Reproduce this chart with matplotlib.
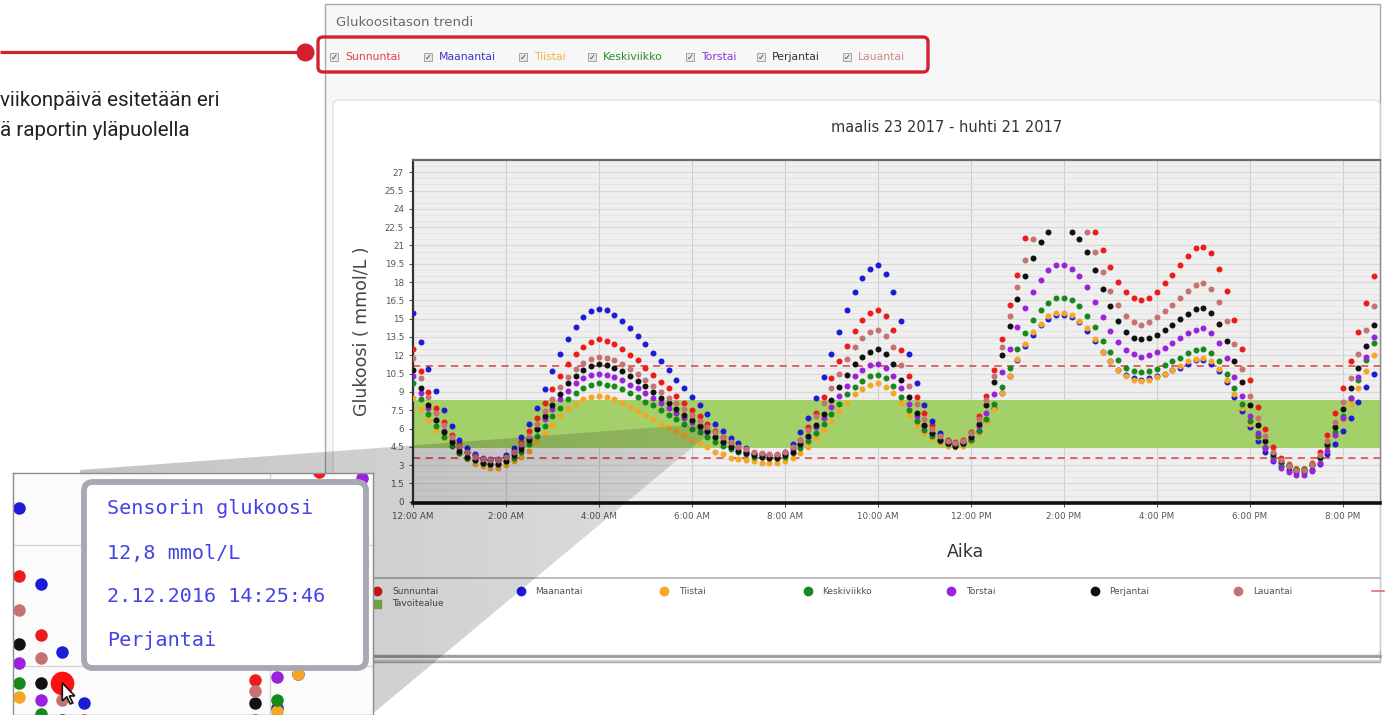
import numpy as np
import matplotlib.pyplot as plt
from matplotlib.patches import Rectangle, FancyBboxPatch, Polygon

W, H = 1390, 715

# sensor glucose, mmol/L, one reading every 10 min from 00:00 (None = above sensor range)
sunnuntai = [12.5, 10.7, 9.0, 7.7, 6.5, 5.5, 4.7, 4.1, 3.8, 3.5, 3.4, 3.4,
             3.7, 4.2, 4.9, 5.8, 6.9, 8.1, 9.2, 10.3, 11.3, 12.1, 12.7, 13.1,
             13.3, 13.2, 12.9, 12.5, 12.0, 11.6, 11.0, 10.4, 9.8, 9.3, 8.7, 8.1,
             7.5, 7.0, 6.4, 5.8, 5.3, 4.9, 4.5, 4.2, 3.9, 3.8, 3.7, 3.7,
             3.9, 4.4, 5.1, 6.1, 7.3, 8.6, 10.1, 11.5, 12.8, 14.0, 14.9, 15.5,
             15.7, 15.2, 14.1, 12.4, 10.3, 8.6, 7.3, 6.3, 5.5, 5.1, 4.9, 5.1,
             5.7, 7.0, 8.7, 10.8, 13.3, 16.1, 18.6, 21.6, None, None, None, None,
             None, None, None, None, 22.1, 20.6, 19.2, 18.0, 17.2, 16.7, 16.5, 16.7,
             17.2, 17.9, 18.6, 19.4, 20.1, 20.8, 20.9, 20.4, 19.1, 17.3, 14.9, 12.5,
             10.0, 7.8, 6.0, 4.5, 3.6, 3.1, 2.7, 2.7, 3.2, 4.1, 5.5, 7.3,
             9.3, 11.5, 13.9, 16.3, 18.5]
maanantai = [15.5, 13.1, 10.9, 9.1, 7.5, 6.2, 5.1, 4.4, 3.9, 3.5, 3.4, 3.4,
             3.8, 4.4, 5.3, 6.4, 7.7, 9.2, 10.7, 12.1, 13.3, 14.3, 15.1, 15.6,
             15.8, 15.7, 15.3, 14.8, 14.2, 13.6, 12.9, 12.2, 11.5, 10.8, 10.0, 9.3,
             8.6, 7.9, 7.2, 6.4, 5.8, 5.2, 4.8, 4.4, 4.0, 3.9, 3.8, 3.8,
             4.1, 4.7, 5.7, 6.9, 8.5, 10.2, 12.1, 13.9, 15.7, 17.2, 18.3, 19.1,
             19.4, 18.7, 17.2, 14.8, 12.1, 9.7, 7.9, 6.6, 5.6, 5.0, 4.7, 4.8,
             5.1, 5.8, 6.6, 7.7, 8.9, 10.3, 11.6, 12.8, 13.7, 14.5, 15.0, 15.3,
             15.3, 15.1, 14.7, 14.0, 13.2, 12.3, 11.5, 10.8, 10.4, 10.1, 10.0, 10.1,
             10.3, 10.5, 10.8, 11.0, 11.3, 11.6, 11.6, 11.3, 10.7, 9.8, 8.6, 7.4,
             6.1, 5.0, 4.1, 3.3, 2.9, 2.6, 2.4, 2.4, 2.6, 3.1, 3.9, 4.7,
             5.8, 6.9, 8.2, 9.4, 10.5]
tiistai = [8.5, 7.6, 6.7, 5.9, 5.2, 4.6, 4.0, 3.5, 3.1, 2.9, 2.8, 2.8,
           3.0, 3.3, 3.7, 4.2, 4.9, 5.6, 6.3, 7.0, 7.6, 8.0, 8.4, 8.6,
           8.7, 8.6, 8.4, 8.1, 7.8, 7.4, 7.1, 6.8, 6.4, 6.1, 5.8, 5.5,
           5.1, 4.8, 4.5, 4.1, 3.9, 3.6, 3.5, 3.4, 3.3, 3.2, 3.2, 3.2,
           3.3, 3.6, 4.0, 4.5, 5.2, 5.9, 6.6, 7.4, 8.1, 8.8, 9.2, 9.6,
           9.7, 9.4, 8.9, 8.1, 7.1, 6.3, 5.6, 5.2, 4.8, 4.6, 4.5, 4.6,
           4.9, 5.6, 6.5, 7.6, 8.9, 10.3, 11.7, 12.9, 13.9, 14.6, 15.2, 15.5,
           15.5, 15.3, 14.8, 14.2, 13.3, 12.3, 11.5, 10.8, 10.3, 10.0, 9.9, 10.0,
           10.2, 10.5, 10.8, 11.1, 11.5, 11.7, 11.8, 11.5, 10.9, 10.0, 8.8, 7.7,
           6.4, 5.3, 4.4, 3.7, 3.2, 3.0, 2.8, 2.8, 3.1, 3.6, 4.5, 5.5,
           6.7, 8.0, 9.3, 10.7, 12.0]
keskiviikko = [9.7, 8.4, 7.2, 6.2, 5.3, 4.6, 4.0, 3.6, 3.4, 3.2, 3.1, 3.1,
               3.3, 3.6, 4.1, 4.7, 5.4, 6.2, 7.0, 7.7, 8.4, 8.9, 9.3, 9.6,
               9.7, 9.6, 9.5, 9.2, 8.9, 8.6, 8.2, 7.9, 7.5, 7.1, 6.8, 6.4,
               6.0, 5.7, 5.3, 4.9, 4.6, 4.3, 4.1, 3.9, 3.7, 3.7, 3.6, 3.6,
               3.7, 4.0, 4.4, 5.0, 5.6, 6.4, 7.2, 8.0, 8.8, 9.4, 9.9, 10.3,
               10.4, 10.1, 9.5, 8.6, 7.5, 6.6, 5.9, 5.4, 5.0, 4.7, 4.6, 4.7,
               5.1, 5.8, 6.8, 8.0, 9.4, 11.0, 12.5, 13.8, 14.9, 15.7, 16.3, 16.7,
               16.7, 16.5, 16.0, 15.2, 14.3, 13.2, 12.3, 11.6, 11.0, 10.7, 10.6, 10.7,
               10.9, 11.2, 11.5, 11.8, 12.2, 12.4, 12.5, 12.2, 11.5, 10.5, 9.3, 8.0,
               6.6, 5.4, 4.5, 3.7, 3.2, 2.9, 2.7, 2.7, 3.0, 3.6, 4.6, 5.7,
               7.0, 8.5, 10.0, 11.6, 13.0]
torstai = [10.3, 8.9, 7.7, 6.7, 5.8, 5.1, 4.5, 4.1, 3.8, 3.6, 3.5, 3.5,
           3.7, 4.1, 4.6, 5.2, 6.0, 6.8, 7.6, 8.4, 9.1, 9.7, 10.1, 10.4,
           10.5, 10.4, 10.2, 10.0, 9.6, 9.3, 8.9, 8.5, 8.1, 7.7, 7.3, 6.9,
           6.5, 6.1, 5.7, 5.3, 4.9, 4.6, 4.3, 4.1, 3.9, 3.9, 3.8, 3.8,
           4.0, 4.3, 4.7, 5.3, 6.1, 6.9, 7.8, 8.7, 9.5, 10.3, 10.8, 11.2,
           11.3, 11.0, 10.3, 9.3, 8.0, 7.0, 6.2, 5.6, 5.1, 4.8, 4.7, 4.8,
           5.3, 6.2, 7.3, 8.8, 10.6, 12.5, 14.3, 15.9, 17.2, 18.2, 19.0, 19.4,
           19.4, 19.1, 18.5, 17.6, 16.4, 15.1, 14.0, 13.1, 12.4, 12.1, 11.9, 12.0,
           12.3, 12.6, 13.0, 13.4, 13.8, 14.1, 14.2, 13.8, 13.0, 11.8, 10.2, 8.7,
           7.0, 5.6, 4.4, 3.4, 2.8, 2.4, 2.2, 2.2, 2.5, 3.2, 4.2, 5.5,
           6.9, 8.5, 10.2, 11.9, 13.5]
perjantai = [10.8, 9.3, 7.9, 6.7, 5.7, 4.9, 4.2, 3.7, 3.4, 3.2, 3.1, 3.1,
             3.3, 3.8, 4.3, 5.1, 6.0, 7.0, 7.9, 8.8, 9.7, 10.3, 10.8, 11.1,
             11.3, 11.2, 11.0, 10.7, 10.3, 9.9, 9.5, 9.0, 8.5, 8.1, 7.6, 7.1,
             6.7, 6.2, 5.8, 5.3, 4.9, 4.5, 4.2, 4.0, 3.8, 3.7, 3.6, 3.6,
             3.8, 4.1, 4.7, 5.4, 6.3, 7.2, 8.3, 9.4, 10.4, 11.3, 11.9, 12.3,
             12.5, 12.1, 11.3, 10.0, 8.6, 7.3, 6.3, 5.6, 5.1, 4.8, 4.6, 4.8,
             5.3, 6.4, 7.9, 9.8, 12.0, 14.4, 16.6, 18.5, 20.0, 21.3, 22.1, None,
             None, 22.1, 21.5, 20.5, 19.0, 17.4, 16.0, 14.8, 13.9, 13.4, 13.3, 13.4,
             13.7, 14.1, 14.5, 15.0, 15.4, 15.8, 15.9, 15.5, 14.6, 13.2, 11.5, 9.8,
             7.9, 6.3, 5.0, 3.9, 3.3, 2.9, 2.6, 2.6, 3.0, 3.7, 4.7, 6.1,
             7.6, 9.3, 11.0, 12.8, 14.5]
lauantai = [11.8, 10.1, 8.6, 7.3, 6.3, 5.3, 4.6, 4.1, 3.7, 3.5, 3.4, 3.4,
            3.7, 4.1, 4.7, 5.4, 6.4, 7.4, 8.4, 9.4, 10.2, 10.9, 11.4, 11.7,
            11.9, 11.8, 11.6, 11.3, 10.9, 10.5, 10.0, 9.5, 9.0, 8.5, 8.1, 7.6,
            7.1, 6.6, 6.1, 5.7, 5.3, 4.9, 4.5, 4.3, 4.1, 4.0, 3.9, 3.9,
            4.1, 4.5, 5.1, 5.9, 7.0, 8.1, 9.3, 10.5, 11.7, 12.7, 13.4, 13.9,
            14.1, 13.6, 12.7, 11.2, 9.5, 8.0, 6.8, 6.0, 5.4, 5.0, 4.8, 5.0,
            5.6, 6.8, 8.3, 10.3, 12.7, 15.2, 17.6, 19.8, 21.5, None, None, None,
            None, None, None, 22.1, 20.5, 18.8, 17.3, 16.1, 15.2, 14.7, 14.5, 14.7,
            15.1, 15.6, 16.1, 16.7, 17.3, 17.8, 17.9, 17.4, 16.4, 14.8, 12.9, 10.9,
            8.7, 6.9, 5.4, 4.1, 3.4, 2.9, 2.6, 2.6, 3.0, 3.8, 5.0, 6.5,
            8.2, 10.1, 12.1, 14.1, 16.0]

days = ['Sunnuntai', 'Maanantai', 'Tiistai', 'Keskiviikko', 'Torstai', 'Perjantai', 'Lauantai']
series = [sunnuntai, maanantai, tiistai, keskiviikko, torstai, perjantai, lauantai]
colors = ['#ee1b1b', '#1b1bd8', '#f5a623', '#15891a', '#9a22dc', '#111111', '#c77272']
check_colors = ['#e0404a', '#3a36c8', '#f2b54a', '#2a8a2a', '#8a3ac8', '#333333', '#d08a8a']

hour_ticks = [0, 2, 4, 6, 8, 10, 12, 14, 16, 18, 20]
hour_labels = ['12:00 AM', '2:00 AM', '4:00 AM', '6:00 AM', '8:00 AM', '10:00 AM',
               '12:00 PM', '2:00 PM', '4:00 PM', '6:00 PM', '8:00 PM']
target_range = (4.4, 8.3)
limits = (3.6, 11.1)
step_min = 10

t = np.arange(len(sunnuntai)) * step_min / 60.0
vals = [np.array(s, dtype=float) for s in series]

RED = '#d42130'


def frac(x0, y0, x1, y1):
    return [x0 / W, 1 - y1 / H, (x1 - x0) / W, (y1 - y0) / H]


def canvas(z):
    a = fig.add_axes([0, 0, 1, 1], zorder=z)
    a.set_xlim(0, W)
    a.set_ylim(H, 0)
    a.axis('off')
    return a


fig = plt.figure(figsize=(W / 100, H / 100), dpi=100)
fig.patch.set_facecolor('white')

# ---- screenshot panel ----
bg = canvas(0)
bg.add_patch(Rectangle((325, 4), 1055, 658, fc='#f7f7f7', ec='#a9a9a9', lw=1))
bg.add_patch(FancyBboxPatch((333, 100), 1047, 555, boxstyle='round,pad=0,rounding_size=6',
                            fc='white', ec='#e2e2e2', lw=1))
bg.text(336, 22, 'Glukoositason trendi', fontsize=9.5, color='#6a6a6a', va='center')
label_x = [345, 439, 534, 603, 701, 772, 858]
for d, c, lx in zip(days, check_colors, label_x):
    bg.add_patch(Rectangle((lx - 15, 53), 8, 8, fc='#e6e6e6', ec='#9a9a9a', lw=0.6))
    bg.text(lx - 11, 57.5, '\u2713', fontsize=6, color='#444', ha='center', va='center')
    bg.text(lx, 57, d, fontsize=7.8, color=c, va='center')
bg.text(947, 127, 'maalis 23 2017 - huhti 21 2017', fontsize=10.5, color='#333',
        ha='center', va='center')

# legend band
band = np.concatenate([np.linspace(0.92, 0.97, 10), np.linspace(0.97, 0.76, 30)])
bg.imshow(np.repeat(band[:, None], 2, axis=1), cmap='gray', vmin=0, vmax=1,
          extent=(333, 1380, 618, 578), aspect='auto', interpolation='bilinear')
bg.plot([333, 1380], [578, 578], color='#b0b0b0', lw=1.2)
for i, (d, c) in enumerate(zip(days, colors)):
    mx = 377 + i * 143.5
    bg.plot(mx, 591, 'o', ms=6, color=c)
    bg.text(mx + 15, 591, d, fontsize=6.5, color='#505050', va='center')
bg.plot(377, 604, 's', ms=6, color='#8cc456')
bg.text(392, 604, 'Tavoitealue', fontsize=6.5, color='#505050', va='center')
bg.plot([1372, 1384], [591, 591], color='#e07070', lw=1.2)
bg.plot([333, 1380], [656, 656], color='#9a9a9a', lw=2)
bg.plot([333, 1380], [661, 661], color='#c6c6c6', lw=1.2)
bg.set_xlim(0, W)
bg.set_ylim(H, 0)

# ---- main chart ----
ax = fig.add_axes(frac(413, 160, 1380, 503), zorder=1)
ax.set_facecolor('#efefef')
ax.axhspan(*target_range, color='#a4d06a', zorder=1, lw=0)
for lim in limits:
    ax.axhline(lim, color='#e05858', lw=1.3, ls=(0, (4, 3)), zorder=2)
for v, c in zip(vals, colors):
    ax.plot(t, v, 'o', ms=4.3, color=c, mec='none', zorder=3)
ax.set_xlim(0, 20.8)
ax.set_ylim(-0.1, 28)
ax.set_xticks(hour_ticks)
ax.set_xticklabels(hour_labels)
yt = np.arange(0, 27.1, 1.5)
ax.set_yticks(yt)
ax.set_yticklabels([f'{v:g}' for v in yt])
ax.set_yticks(np.arange(0, 28, 0.5), minor=True)
ax.tick_params(axis='both', which='major', labelsize=6.3, colors='#555', length=3, width=0.8)
ax.tick_params(axis='y', which='minor', length=0)
ax.grid(axis='y', which='minor', color='#e3e3e3', lw=0.6)
ax.grid(axis='y', which='major', color='#d8d8d8', lw=0.8)
ax.grid(axis='x', color='#cdcdcd', lw=0.8)
ax.set_axisbelow(True)
ax.spines['left'].set(color='#333', lw=1.6)
ax.spines['bottom'].set(color='#111', lw=2.6)
ax.spines['top'].set(color='#6a6a6a', lw=1.6)
ax.spines['right'].set(color='#8a8a8a', lw=1)
ax.set_ylabel('Glukoosi ( mmol/L )', fontsize=12.5, color='#444')
ax.yaxis.set_label_coords((371 - 413) / 967, 0.5)
ax.set_xlabel('Aika', fontsize=12.5, color='#333')
ax.xaxis.set_label_coords((965 - 413) / 967, (503 - 543) / 343)

# ---- callout overlay ----
ov = canvas(2)
wedge = [(80, 470), (703, 424), (712, 431), (371, 715), (80, 715)]
shade = np.zeros((2, 256, 4))
shade[..., 3] = np.linspace(0.24, 0.13, 256)
im = ov.imshow(shade, extent=(80, 712, 715, 424), aspect='auto', interpolation='bilinear')
clip = Polygon(wedge, closed=True, fc='none', ec='none')
ov.add_patch(clip)
im.set_clip_path(clip)
ov.plot([0, 305], [52, 52], color=RED, lw=2.3, solid_capstyle='butt')
ov.plot(305, 52, 'o', ms=12, color=RED)
ov.add_patch(FancyBboxPatch((318, 37), 610, 35, boxstyle='round,pad=0,rounding_size=5',
                            fc='none', ec=RED, lw=2.4))
ov.text(0, 100, 'viikonpäivä esitetään eri', fontsize=14.8, family='Roboto',
        color='#222', va='center')
ov.text(0, 131, 'ä raportin yläpuolella', fontsize=14.8, family='Roboto',
        color='#222', va='center')
ov.set_xlim(0, W)
ov.set_ylim(H, 0)

# ---- magnified inset ----
ins = fig.add_axes(frac(13, 473, 373, 715), zorder=3)
ins.set_facecolor('#fbfbfb')
for v, c in zip(vals, colors):
    ins.plot(t, v, 'o', ms=9, color=c, mec='none')
hl = 65
ins.plot(t[hl], vals[0][hl], 'o', ms=17, color='#ff1010', mec='none')
ins.set_xlim(10.45, 13.25)
ins.set_ylim(7.46, 16.06)
ins.set_xticks([12.45])
ins.set_yticks([9.2, 13.5])
ins.tick_params(length=0, labelbottom=False, labelleft=False)
ins.grid(color='#d2d2d2', lw=0.9)
for s in ins.spines.values():
    s.set(color='#8d8d8d', lw=1)

# ---- tooltip ----
top = canvas(4)
top.add_patch(FancyBboxPatch((84, 482), 282, 186, boxstyle='round,pad=0,rounding_size=9',
                             fc='white', ec='#a8a8b3', lw=4.2))
tip_lines = ['Sensorin glukoosi', '12,8 mmol/L', '2.12.2016 14:25:46', 'Perjantai']
for i, line in enumerate(tip_lines):
    top.text(107, 509 + i * 44, line, fontsize=14.5, family='DejaVu Sans Mono',
             color='#4343e6', va='center')
px, py = ins.transData.transform((t[hl], vals[0][hl]))
cx, cy = px, H - py
arrow = [(0, 0), (0, 18), (4.5, 14), (8, 21), (10.5, 20), (7, 13), (12.5, 13)]
top.add_patch(Polygon([(cx + a, cy + b) for a, b in arrow], closed=True,
                      fc='white', ec='#111', lw=1.2))
top.set_xlim(0, W)
top.set_ylim(H, 0)

fig.savefig('out.png', dpi=100, facecolor='white')
